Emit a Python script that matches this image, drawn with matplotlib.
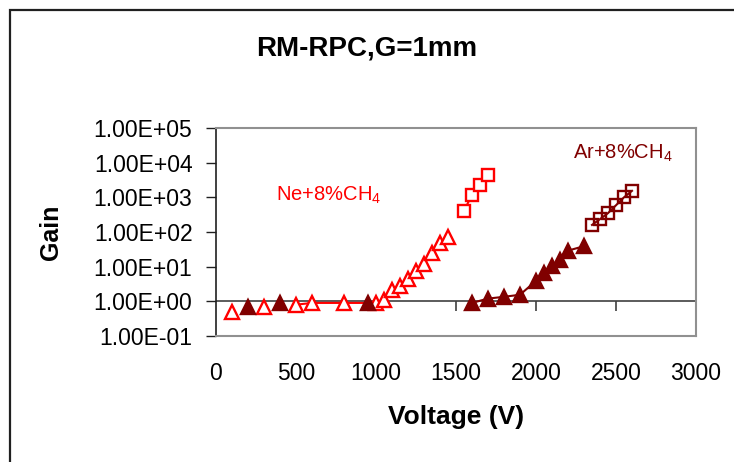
import matplotlib
matplotlib.use("Agg")
import matplotlib.pyplot as plt
from matplotlib.patches import Rectangle

plt.rcParams['font.family'] = ['Liberation Sans', 'DejaVu Sans']
plt.rcParams['mathtext.fontset'] = 'custom'
plt.rcParams['mathtext.rm'] = 'Liberation Sans'
plt.rcParams['mathtext.it'] = 'Liberation Sans'

# Ne+8%CH4, open triangles (first two without line)
ne_pts_v = [100, 300]
ne_pts_g = [0.5, 0.7]
ne_tri_v = [500, 600, 800, 1000, 1050, 1100, 1150, 1200, 1250, 1300, 1350, 1400, 1450]
ne_tri_g = [0.8, 0.9, 0.9, 0.9, 1.1, 2.1, 2.7, 4.5, 7.6, 12, 25, 49, 73]
# Ne+8%CH4, open squares
ne_sq_v = [1550, 1600, 1650, 1700]
ne_sq_g = [410, 1180, 2300, 4470]

# Ar+8%CH4, filled triangles
ar_low_v = [200, 400, 950]
ar_low_g = [0.7, 0.9, 0.9]
ar_tri_v = [1600, 1700, 1800, 1900, 2000, 2050, 2100, 2150, 2200, 2300]
ar_tri_g = [0.9, 1.2, 1.35, 1.55, 3.9, 6.6, 10.3, 15.4, 29, 39]
# Ar+8%CH4, open squares
ar_sq_v = [2350, 2400, 2450, 2500, 2550, 2600]
ar_sq_g = [160, 235, 350, 590, 1000, 1540]

x_ticks = [0, 500, 1000, 1500, 2000, 2500, 3000]
y_ticks = [1e-1, 1e0, 1e1, 1e2, 1e3, 1e4, 1e5]
y_labels = ['1.00E-01', '1.00E+00', '1.00E+01', '1.00E+02',
            '1.00E+03', '1.00E+04', '1.00E+05']

RED = '#FF0000'
DRED = '#800000'

fig = plt.figure(figsize=(7.34, 4.62), dpi=100)
ax = fig.add_axes([216 / 734, 1 - 336 / 462, 480 / 734, 208 / 462])

ax.set_yscale('log')
ax.set_xlim(0, 3000)
ax.set_ylim(1e-1, 1e5)

# horizontal axis crosses at gain = 1
ax.axhline(1, color='#404040', lw=1.2, zorder=1)
ax.plot(x_ticks[1:], [1] * (len(x_ticks) - 1), ls='', marker=3, ms=7,
        mew=1.2, color='#404040', zorder=1, clip_on=False)

tri = dict(marker='^', ms=10, mew=1.7)
sq = dict(marker='s', ms=8, mew=1.7)

ax.plot(ne_pts_v, ne_pts_g, ls='', color=RED, mfc='white', mec=RED, **tri, zorder=3)
ax.plot(ne_tri_v, ne_tri_g, '-', lw=1.5, color=RED, mfc='white', mec=RED, **tri, zorder=3)
ax.plot(ne_sq_v, ne_sq_g, '-', lw=1.5, color=RED, mfc='white', mec=RED, **sq, zorder=3)

ax.plot(ar_low_v, ar_low_g, ls='', color=DRED, mfc=DRED, mec=DRED, **tri, zorder=4)
ax.plot(ar_tri_v, ar_tri_g, '-', lw=1.5, color=DRED, mfc=DRED, mec=DRED, **tri, zorder=4)
ax.plot(ar_sq_v, ar_sq_g, '-', lw=1.5, color=DRED, mfc='none', mec=DRED, **sq, zorder=4)

ax.text(375, 1150, 'Ne+8%CH$_4$', color=RED, fontsize=14.5, ha='left', va='center')
ax.text(2230, 1.8e4, 'Ar+8%CH$_4$', color=DRED, fontsize=14.5, ha='left', va='center')

ax.set_xticks(x_ticks)
ax.set_xticklabels([str(v) for v in x_ticks])
ax.set_yticks(y_ticks)
ax.set_yticklabels(y_labels)
ax.minorticks_off()
ax.tick_params(axis='x', length=0, pad=19, labelsize=16.5)
ax.tick_params(axis='y', direction='out', length=7, width=1, pad=10,
               labelsize=16.5, color='#202020')

for s in ['top', 'right', 'bottom']:
    ax.spines[s].set_color('#909090')
    ax.spines[s].set_linewidth(1.5)
ax.spines['left'].set_color('#202020')
ax.spines['left'].set_linewidth(1.2)

ax.set_xlabel('Voltage (V)', fontsize=19, fontweight='bold', labelpad=14)
ax.set_ylabel('Gain', fontsize=18, fontweight='bold', labelpad=22)
fig.text(367 / 734, 1 - 49 / 462, 'RM-RPC,G=1mm', fontsize=20, fontweight='bold',
         ha='center', va='center')

# outer chart border
fig.patches.append(Rectangle((10 / 734, -0.1), 2, 1.1 - 10 / 462,
                             transform=fig.transFigure, fill=False,
                             ec='#202020', lw=1.6))

fig.savefig('out.png', dpi=100)
